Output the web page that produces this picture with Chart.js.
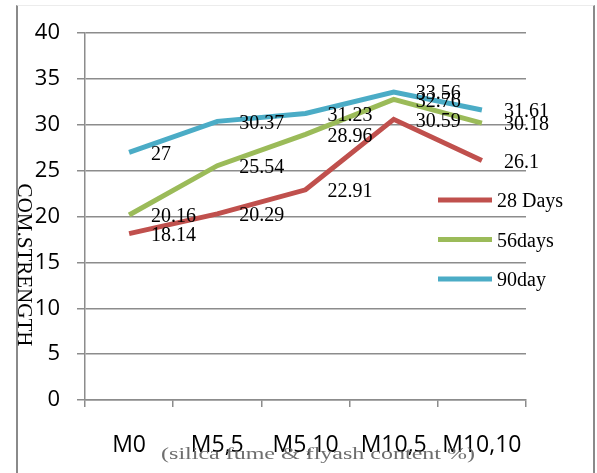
<!DOCTYPE html>
<html lang="en">
<head>
    <meta charset="UTF-8">
    <title>Compressive strength</title>
    <script src="https://cdn.jsdelivr.net/npm/chart.js"></script>
    <style>
        html, body {
            margin: 0;
            padding: 0;
            background: #fff;
        }

        .wrap {
            position: relative;
            width: 597px;
            height: 473px;
        }

        .frame {
            position: absolute;
            left: 16px;
            top: 5px;
            width: 575px;
            height: 480px;
            border-left: 2px solid #8a8a8a;
            border-right: 2px solid #8a8a8a;
            border-top: 1px solid #ececec;
            pointer-events: none;
        }
    </style>
</head>
<body>
<div class="wrap">
    <canvas id="strengthChart"></canvas>
    <div class="frame"></div>
</div>

<script>
// mixes and strengths (N/mm2)
const mixes = ['M0', 'M5,5', 'M5,10', 'M10,5', 'M10,10'];
const days28 = [18.14, 20.29, 22.91, 30.59, 26.1];
const days56 = [20.16, 25.54, 28.96, 32.76, 30.18];
const days90 = [27, 30.37, 31.23, 33.56, 31.61];
const yTicks = [0, 5, 10, 15, 20, 25, 30, 35, 40];

const series = [
    { name: '28 Days', data: days28, color: '#c0504d' },
    { name: '56days', data: days56, color: '#9bbb59' },
    { name: '90day', data: days90, color: '#4bacc6' }
];

const gridGrey = '#8c8c8c';
const serif = "'Liberation Serif', 'Times New Roman', serif";

// value next to each point
const valueLabels = {
    id: 'valueLabels',
    afterDatasetsDraw(chart) {
        const ctx = chart.ctx;
        ctx.save();
        ctx.font = '20px ' + serif;
        ctx.fillStyle = '#000';
        ctx.textAlign = 'left';
        ctx.textBaseline = 'middle';
        chart.data.datasets.forEach((ds, i) => {
            chart.getDatasetMeta(i).data.forEach((pt, j) => {
                ctx.fillText(String(ds.data[j]), pt.x + 22, pt.y + 2);
            });
        });
        ctx.restore();
    }
};

// legend sitting inside the plot, axis titles
const extras = {
    id: 'extras',
    afterDraw(chart) {
        const ctx = chart.ctx;
        ctx.save();

        ctx.font = '20px ' + serif;
        ctx.textAlign = 'left';
        ctx.textBaseline = 'middle';
        chart.data.datasets.forEach((ds, i) => {
            const y = 200 + i * 39.5;
            ctx.strokeStyle = ds.borderColor;
            ctx.lineWidth = 5;
            ctx.beginPath();
            ctx.moveTo(438, y);
            ctx.lineTo(492, y);
            ctx.stroke();
            ctx.fillStyle = '#000';
            ctx.fillText(ds.label, 497, y + 2);
        });

        // y title, reading downwards
        ctx.save();
        ctx.translate(24, 265);
        ctx.rotate(Math.PI / 2);
        ctx.textAlign = 'center';
        ctx.font = '21px ' + serif;
        ctx.fillStyle = '#000';
        ctx.fillText('COM.STRENGTH', 0, 0);
        ctx.restore();

        // x title, stretched and grey
        ctx.save();
        ctx.translate(318, 455);
        ctx.scale(1.5, 1);
        ctx.textAlign = 'center';
        ctx.font = '16px ' + serif;
        ctx.fillStyle = '#6e6e6e';
        ctx.fillText('(silica fume & flyash content %)', 0, 0);
        ctx.restore();

        ctx.restore();
    }
};

const ctx = document.getElementById('strengthChart').getContext('2d');
new Chart(ctx, {
    type: 'line',
    data: {
        labels: mixes,
        datasets: series.map(s => ({
            label: s.name,
            data: s.data,
            borderColor: s.color,
            backgroundColor: s.color,
            borderWidth: 5,
            pointRadius: 0,
            tension: 0
        }))
    },
    options: {
        responsive: true,
        maintainAspectRatio: false,
        animation: false,
        layout: {
            padding: { left: 0, right: 71, top: 33, bottom: 0 }
        },
        plugins: {
            legend: { display: false },
            tooltip: { enabled: false }
        },
        scales: {
            x: {
                offset: true,
                grid: {
                    offset: true,
                    drawOnChartArea: false,
                    tickLength: 7,
                    color: gridGrey,
                    lineWidth: 1.5
                },
                border: { color: gridGrey, width: 1.5 },
                ticks: {
                    color: '#000',
                    padding: 25,
                    font: { family: "'Open Sans', sans-serif", size: 23 }
                },
                afterFit: (scale) => { scale.height = 73; }
            },
            y: {
                min: 0,
                max: 40,
                afterBuildTicks: (scale) => {
                    scale.ticks = yTicks.map(v => ({ value: v }));
                },
                grid: {
                    tickLength: 8,
                    color: gridGrey,
                    lineWidth: 1.5
                },
                border: { color: gridGrey, width: 1.5 },
                ticks: {
                    color: '#000',
                    padding: 17,
                    font: { family: "'Open Sans', sans-serif", size: 22 }
                },
                afterFit: (scale) => { scale.width = 85; }
            }
        }
    },
    plugins: [valueLabels, extras]
});
</script>
</body>
</html>
